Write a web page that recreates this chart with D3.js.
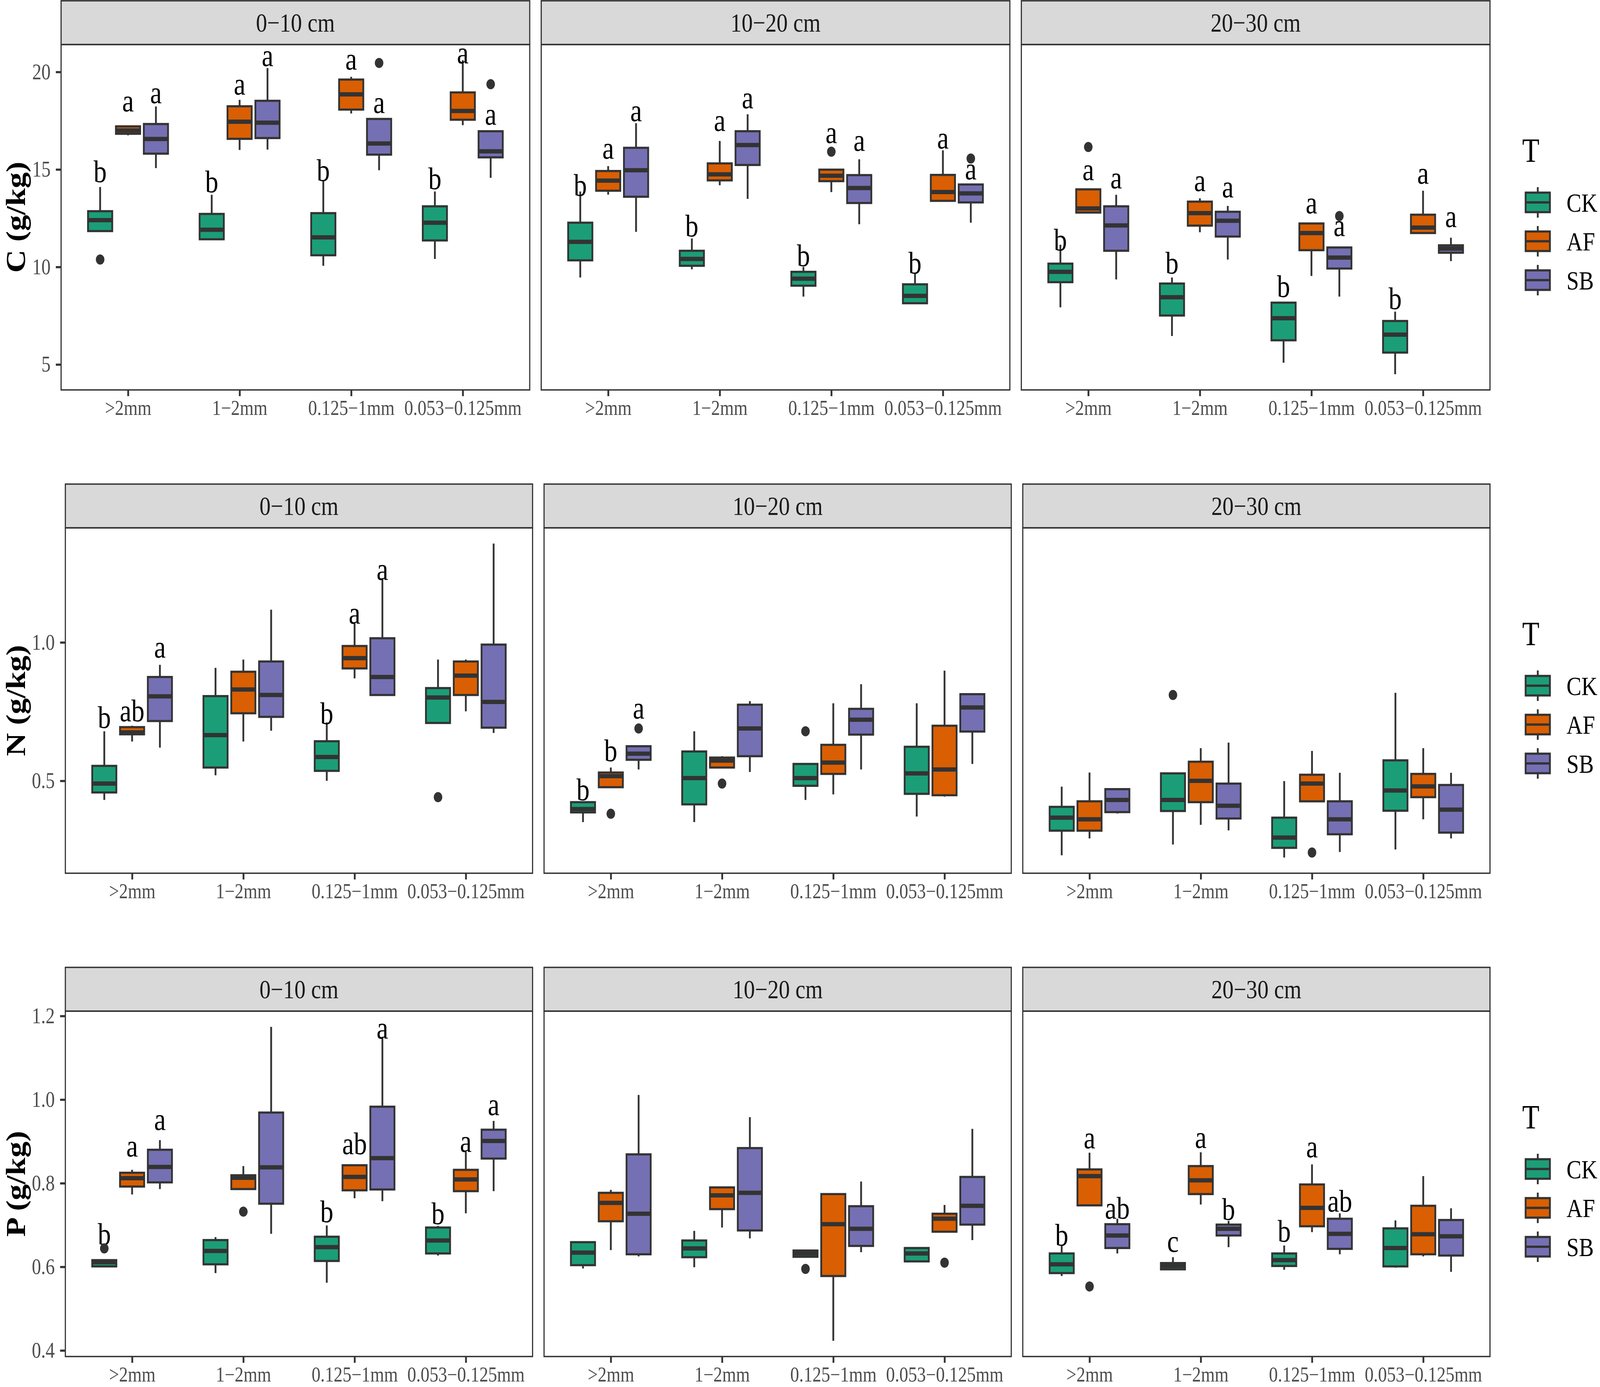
<!doctype html>
<html>
<head>
<meta charset="utf-8" />
<title>C, N, P by aggregate size and depth</title>
<script src="https://cdn.jsdelivr.net/npm/d3@7"></script>
<style>
html, body { margin: 0; padding: 0; overflow: hidden; background: #fff; }
#chart { display: block; width: 100vw; height: 100vh; }
text { font-family: "Liberation Serif", "DejaVu Serif", serif; }
</style>
</head>
<body>
<svg id="chart" viewBox="0 0 4872 3550" preserveAspectRatio="none"></svg>
<script>
var sizes = ['>2mm', '1\u22122mm', '0.125\u22121mm', '0.053\u22120.125mm'];
var treatments = ['CK', 'AF', 'SB'];
var depths = ['0\u221210 cm', '10\u221220 cm', '20\u221230 cm'];
var yTitles = ['C (g/kg)', 'N (g/kg)', 'P (g/kg)'];
var colours = ['#1B9E77', '#D95F02', '#7570B3'];

var C_ticks = [5, 10, 15, 20];
var N_ticks = [0.5, 1.0];
var P_ticks = [0.4, 0.6, 0.8, 1.0, 1.2];

// [lower whisker, Q1, median, Q3, upper whisker], order: size (4) x treatment (CK, AF, SB)
var C_0_10 = [
  [11.84, 11.84, 12.40, 12.86, 14.10], [16.75, 16.83, 17.00, 17.21, 17.21], [15.07, 15.81, 16.56, 17.33, 18.23],
  [11.38, 11.42, 11.91, 12.72, 13.70], [16.00, 16.57, 17.45, 18.24, 18.57], [16.02, 16.61, 17.40, 18.52, 20.20],
  [10.06, 10.60, 11.52, 12.76, 14.40], [17.87, 18.07, 18.85, 19.61, 19.75], [14.96, 15.76, 16.33, 17.59, 17.59],
  [10.41, 11.36, 12.27, 13.11, 13.87], [17.27, 17.55, 18.00, 18.95, 20.60], [14.57, 15.62, 15.93, 16.96, 16.96]
];
var C_10_20 = [
  [9.46, 10.34, 11.29, 12.27, 13.87], [13.71, 13.91, 14.43, 14.92, 15.17], [11.80, 13.60, 14.96, 16.11, 17.37],
  [9.88, 10.06, 10.41, 10.83, 11.46], [14.19, 14.44, 14.75, 15.31, 16.46], [13.49, 15.23, 16.25, 16.96, 17.83],
  [8.48, 9.04, 9.40, 9.75, 10.00], [13.84, 14.40, 14.68, 14.99, 14.99], [12.19, 13.28, 14.05, 14.71, 15.52],
  [8.14, 8.14, 8.52, 9.11, 9.71], [13.39, 13.39, 13.84, 14.72, 15.98], [12.27, 13.31, 13.77, 14.23, 14.23]
];
var C_20_30 = [
  [7.93, 9.22, 9.75, 10.17, 11.14], [12.79, 12.79, 13.00, 13.98, 13.98], [9.36, 10.83, 12.13, 13.11, 13.70],
  [6.46, 7.51, 8.45, 9.15, 9.46], [11.78, 12.12, 12.76, 13.35, 13.52], [10.38, 11.56, 12.37, 12.83, 13.13],
  [5.09, 6.24, 7.37, 8.17, 8.21], [9.54, 10.86, 11.74, 12.23, 12.23], [8.48, 9.92, 10.48, 11.00, 11.00],
  [4.50, 5.61, 6.53, 7.23, 7.71], [11.74, 11.74, 12.02, 12.68, 13.91], [10.30, 10.73, 10.94, 11.11, 11.50]
];
var N_0_10 = [
  [0.431, 0.458, 0.490, 0.554, 0.679], [0.642, 0.668, 0.675, 0.694, 0.699], [0.620, 0.716, 0.805, 0.875, 0.919],
  [0.520, 0.548, 0.665, 0.806, 0.908], [0.642, 0.744, 0.830, 0.894, 0.938], [0.681, 0.731, 0.810, 0.931, 1.118],
  [0.500, 0.536, 0.586, 0.643, 0.711], [0.870, 0.906, 0.943, 0.987, 1.069], [0.810, 0.810, 0.875, 1.015, 1.232],
  [0.709, 0.709, 0.801, 0.835, 0.938], [0.751, 0.810, 0.880, 0.931, 0.938], [0.673, 0.692, 0.785, 0.992, 1.357]
];
var N_10_20 = [
  [0.351, 0.386, 0.398, 0.423, 0.423], [0.477, 0.477, 0.517, 0.530, 0.548], [0.541, 0.576, 0.598, 0.625, 0.625],
  [0.351, 0.415, 0.510, 0.606, 0.679], [0.548, 0.548, 0.573, 0.584, 0.589], [0.532, 0.589, 0.689, 0.775, 0.788],
  [0.431, 0.482, 0.510, 0.561, 0.561], [0.451, 0.525, 0.566, 0.630, 0.780], [0.541, 0.667, 0.721, 0.760, 0.849],
  [0.371, 0.453, 0.527, 0.623, 0.780], [0.443, 0.448, 0.541, 0.699, 0.898], [0.561, 0.678, 0.765, 0.813, 0.816]
];
var N_20_30 = [
  [0.231, 0.320, 0.367, 0.406, 0.479], [0.292, 0.320, 0.361, 0.426, 0.530], [0.382, 0.387, 0.431, 0.470, 0.470],
  [0.270, 0.391, 0.431, 0.527, 0.527], [0.341, 0.423, 0.500, 0.569, 0.618], [0.321, 0.364, 0.410, 0.490, 0.638],
  [0.223, 0.258, 0.295, 0.367, 0.499], [0.426, 0.426, 0.490, 0.522, 0.608], [0.243, 0.307, 0.361, 0.426, 0.529],
  [0.252, 0.392, 0.465, 0.574, 0.818], [0.361, 0.441, 0.480, 0.525, 0.618], [0.292, 0.313, 0.396, 0.485, 0.529]
];
var P_0_10 = [
  [0.599, 0.601, 0.611, 0.616, 0.616], [0.773, 0.792, 0.812, 0.825, 0.832], [0.786, 0.802, 0.839, 0.880, 0.903],
  [0.585, 0.606, 0.638, 0.664, 0.671], [0.786, 0.786, 0.813, 0.819, 0.841], [0.679, 0.751, 0.838, 0.969, 1.174],
  [0.562, 0.614, 0.647, 0.672, 0.699], [0.764, 0.783, 0.815, 0.843, 0.843], [0.757, 0.785, 0.860, 0.983, 1.150],
  [0.627, 0.632, 0.663, 0.694, 0.698], [0.728, 0.781, 0.809, 0.832, 0.875], [0.781, 0.859, 0.901, 0.928, 0.949]
];
var P_10_20 = [
  [0.596, 0.604, 0.634, 0.659, 0.659], [0.640, 0.709, 0.753, 0.777, 0.784], [0.625, 0.630, 0.727, 0.869, 1.011],
  [0.599, 0.623, 0.644, 0.663, 0.686], [0.694, 0.738, 0.771, 0.790, 0.792], [0.668, 0.687, 0.777, 0.884, 0.958],
  [0.624, 0.624, 0.632, 0.639, 0.639], [0.423, 0.578, 0.702, 0.774, 0.776], [0.635, 0.650, 0.691, 0.745, 0.804],
  [0.613, 0.613, 0.632, 0.645, 0.645], [0.684, 0.684, 0.715, 0.727, 0.748], [0.664, 0.701, 0.746, 0.815, 0.930]
];
var P_20_30 = [
  [0.578, 0.585, 0.606, 0.632, 0.650], [0.747, 0.747, 0.817, 0.833, 0.873], [0.632, 0.645, 0.675, 0.702, 0.715],
  [0.593, 0.594, 0.602, 0.609, 0.623], [0.749, 0.774, 0.807, 0.841, 0.874], [0.647, 0.675, 0.691, 0.701, 0.710],
  [0.593, 0.602, 0.616, 0.632, 0.651], [0.683, 0.697, 0.741, 0.797, 0.845], [0.630, 0.643, 0.679, 0.715, 0.728],
  [0.598, 0.601, 0.645, 0.692, 0.711], [0.625, 0.630, 0.678, 0.746, 0.817], [0.588, 0.627, 0.673, 0.712, 0.740]
];

// outliers: [box index, value]
var C_0_10_out = [[0, 10.38], [8, 20.46], [11, 19.37]];
var C_10_20_out = [[7, 15.91], [11, 15.56]];
var C_20_30_out = [[1, 16.15], [8, 12.61]];
var N_0_10_out = [[9, 0.441]];
var N_10_20_out = [[1, 0.381], [2, 0.689], [4, 0.490], [6, 0.679]];
var N_20_30_out = [[3, 0.810], [7, 0.241]];
var P_0_10_out = [[0, 0.644], [4, 0.732]];
var P_10_20_out = [[6, 0.595], [10, 0.610]];
var P_20_30_out = [[1, 0.553]];

// significance letters and the value they sit at (centre of the glyph)
var C_0_10_sig = ['b', 'a', 'a', 'b', 'a', 'a', 'b', 'a', 'a', 'b', 'a', 'a'];
var C_0_10_sigAt = [14.9, 18.34, 18.76, 14.37, 19.2, 20.66, 14.96, 20.49, 18.25, 14.54, 20.81, 17.66];
var C_10_20_sig = ['b', 'a', 'a', 'b', 'a', 'a', 'b', 'a', 'a', 'b', 'a', 'a'];
var C_10_20_sigAt = [14.19, 15.91, 17.83, 12.12, 17.34, 18.49, 10.59, 16.71, 16.32, 10.2, 16.43, 14.86];
var C_20_30_sig = ['b', 'a', 'a', 'b', 'a', 'a', 'b', 'a', 'a', 'b', 'a', 'a'];
var C_20_30_sigAt = [11.39, 14.82, 14.4, 10.2, 14.26, 13.94, 9.0, 13.11, 11.95, 8.38, 14.64, 12.4];
var N_0_10_sig = ['b', 'ab', 'a', '', '', '', 'b', 'a', 'a', '', '', ''];
var N_0_10_sigAt = [0.729, 0.753, 0.97, null, null, null, 0.744, 1.094, 1.251, null, null, null];
var N_10_20_sig = ['b', 'b', 'a', '', '', '', '', '', '', '', '', ''];
var N_10_20_sigAt = [0.469, 0.61, 0.751, null, null, null, null, null, null, null, null, null];
var N_20_30_sig = ['', '', '', '', '', '', '', '', '', '', '', ''];
var N_20_30_sigAt = [null, null, null, null, null, null, null, null, null, null, null, null];
var P_0_10_sig = ['b', 'a', 'a', '', '', '', 'b', 'ab', 'a', 'b', 'a', 'a'];
var P_0_10_sigAt = [0.678, 0.881, 0.944, null, null, null, 0.732, 0.895, 1.163, 0.728, 0.892, 0.98];
var P_10_20_sig = ['', '', '', '', '', '', '', '', '', '', '', ''];
var P_10_20_sigAt = [null, null, null, null, null, null, null, null, null, null, null, null];
var P_20_30_sig = ['b', 'a', 'ab', 'c', 'a', 'b', 'b', 'a', 'ab', '', '', ''];
var P_20_30_sigAt = [0.676, 0.9, 0.741, 0.653, 0.901, 0.738, 0.686, 0.879, 0.758, null, null, null];

var rows = [
  { title: yTitles[0], ticks: C_ticks, fmt: d3.format('d'),
    panels: [
      { stats: C_0_10, out: C_0_10_out, sig: C_0_10_sig, sigAt: C_0_10_sigAt },
      { stats: C_10_20, out: C_10_20_out, sig: C_10_20_sig, sigAt: C_10_20_sigAt },
      { stats: C_20_30, out: C_20_30_out, sig: C_20_30_sig, sigAt: C_20_30_sigAt }] },
  { title: yTitles[1], ticks: N_ticks, fmt: d3.format('.1f'),
    panels: [
      { stats: N_0_10, out: N_0_10_out, sig: N_0_10_sig, sigAt: N_0_10_sigAt },
      { stats: N_10_20, out: N_10_20_out, sig: N_10_20_sig, sigAt: N_10_20_sigAt },
      { stats: N_20_30, out: N_20_30_out, sig: N_20_30_sig, sigAt: N_20_30_sigAt }] },
  { title: yTitles[2], ticks: P_ticks, fmt: d3.format('.1f'),
    panels: [
      { stats: P_0_10, out: P_0_10_out, sig: P_0_10_sig, sigAt: P_0_10_sigAt },
      { stats: P_10_20, out: P_10_20_out, sig: P_10_20_sig, sigAt: P_10_20_sigAt },
      { stats: P_20_30, out: P_20_30_out, sig: P_20_30_sig, sigAt: P_20_30_sigAt }] }
];

var svg = d3.select('#chart');
svg.append('rect').attr('width', 4872).attr('height', 3550).attr('fill', '#fff');

var ink = '#333333';
var rowStep = 1237, stripH = 112, plotH = 884;
var rightEdge = 4537, gap = 35;
var boxStroke = 5.5, medStroke = 11;
var letterSize = 80;

rows.forEach(function(row, r) {
  var rowTop = 2 + r * rowStep;
  var plotTop = rowTop + stripH;
  var plotBottom = plotTop + plotH;
  var left = r === 0 ? 186 : 199;
  var pw = (rightEdge - left - 2 * gap) / 3;

  // shared y range for the row, expanded by 5% like ggplot
  var vals = [];
  row.panels.forEach(function(p) {
    p.stats.forEach(function(s) { vals.push(s[0], s[4]); });
    p.out.forEach(function(o) { vals.push(o[1]); });
  });
  var lo = d3.min(vals), hi = d3.max(vals), pad = (hi - lo) * 0.05;
  var y = d3.scaleLinear().domain([lo - pad, hi + pad]).range([plotBottom, plotTop]);

  // y axis on the first panel
  var ya = svg.append('g').attr('transform', 'translate(' + left + ',0)')
    .call(d3.axisLeft(y).tickValues(row.ticks).tickFormat(row.fmt).tickSize(16).tickPadding(16));
  ya.select('.domain').remove();
  ya.selectAll('.tick line').attr('stroke', ink).attr('stroke-width', 5.5);
  ya.selectAll('.tick text').attr('fill', '#4D4D4D').attr('font-size', 56)
    .attr('font-family', '"Liberation Serif", serif');

  svg.append('text')
    .attr('transform', 'translate(76,' + ((plotTop + plotBottom) / 2) + ') rotate(-90)')
    .attr('text-anchor', 'middle').attr('font-size', 82).attr('font-weight', 'bold')
    .attr('fill', '#000').text(row.title);

  row.panels.forEach(function(p, c) {
    var x0 = left + c * (pw + gap), x1 = x0 + pw;
    var x = d3.scalePoint().domain(sizes).range([x0, x1]).padding(0.6);
    var step = x.step();
    var bw = 0.217 * step;

    // strip
    svg.append('rect').attr('x', x0).attr('y', rowTop).attr('width', pw).attr('height', stripH)
      .attr('fill', '#D9D9D9').attr('stroke', ink).attr('stroke-width', 3.5);
    svg.append('text').attr('x', (x0 + x1) / 2).attr('y', rowTop + stripH / 2 + 23)
      .attr('text-anchor', 'middle').attr('font-size', 68).attr('fill', '#1A1A1A').text(depths[c]);

    // x axis
    var xa = svg.append('g').attr('transform', 'translate(0,' + plotBottom + ')')
      .call(d3.axisBottom(x).tickSize(16).tickPadding(10));
    xa.select('.domain').remove();
    xa.selectAll('.tick line').attr('stroke', ink).attr('stroke-width', 5.5);
    xa.selectAll('.tick text').attr('fill', '#4D4D4D').attr('font-size', 54)
      .attr('font-family', '"Liberation Serif", serif');

    var g = svg.append('g');
    p.stats.forEach(function(s, i) {
      var si = Math.floor(i / 3), ti = i % 3;
      var cx = x(sizes[si]) + (ti - 1) * 0.25 * step;
      g.append('line').attr('x1', cx).attr('x2', cx).attr('y1', y(s[0])).attr('y2', y(s[1]))
        .attr('stroke', ink).attr('stroke-width', boxStroke);
      g.append('line').attr('x1', cx).attr('x2', cx).attr('y1', y(s[3])).attr('y2', y(s[4]))
        .attr('stroke', ink).attr('stroke-width', boxStroke);
      g.append('rect').attr('x', cx - bw / 2).attr('y', y(s[3]))
        .attr('width', bw).attr('height', Math.max(0.5, y(s[1]) - y(s[3])))
        .attr('fill', colours[ti]).attr('stroke', ink).attr('stroke-width', boxStroke);
      g.append('line').attr('x1', cx - bw / 2).attr('x2', cx + bw / 2)
        .attr('y1', y(s[2])).attr('y2', y(s[2]))
        .attr('stroke', ink).attr('stroke-width', medStroke);

      if (p.sig[i]) {
        var tall = p.sig[i].indexOf('b') >= 0;
        g.append('text').attr('x', cx)
          .attr('y', y(p.sigAt[i]) + (tall ? 0.34 : 0.225) * letterSize)
          .attr('text-anchor', 'middle').attr('font-size', letterSize).attr('fill', '#000')
          .text(p.sig[i]);
      }
    });
    p.out.forEach(function(o) {
      var si = Math.floor(o[0] / 3), ti = o[0] % 3;
      var cx = x(sizes[si]) + (ti - 1) * 0.25 * step;
      g.append('circle').attr('cx', cx).attr('cy', y(o[1])).attr('r', 13).attr('fill', ink);
    });

    svg.append('rect').attr('x', x0).attr('y', plotTop).attr('width', pw).attr('height', plotH)
      .attr('fill', 'none').attr('stroke', ink).attr('stroke-width', 3.5);
  });

  // legend
  var mid = (plotTop + plotBottom) / 2;
  svg.append('text').attr('x', 4635).attr('y', mid - 142).attr('font-size', 86)
    .attr('fill', '#000').text('T');
  treatments.forEach(function(t, k) {
    var cy = mid - 38 + k * 99.5;
    var kx = 4682.5, kw = 74, kh = 50;
    svg.append('line').attr('x1', kx).attr('x2', kx).attr('y1', cy - 39).attr('y2', cy + 39)
      .attr('stroke', ink).attr('stroke-width', boxStroke);
    svg.append('rect').attr('x', kx - kw / 2).attr('y', cy - kh / 2).attr('width', kw).attr('height', kh)
      .attr('fill', colours[k]).attr('stroke', ink).attr('stroke-width', boxStroke);
    svg.append('line').attr('x1', kx - kw / 2).attr('x2', kx + kw / 2).attr('y1', cy).attr('y2', cy)
      .attr('stroke', ink).attr('stroke-width', 6);
    svg.append('text').attr('x', 4770).attr('y', cy + 24).attr('font-size', 68)
      .attr('fill', '#000').text(t);
  });
});
</script>
</body>
</html>
